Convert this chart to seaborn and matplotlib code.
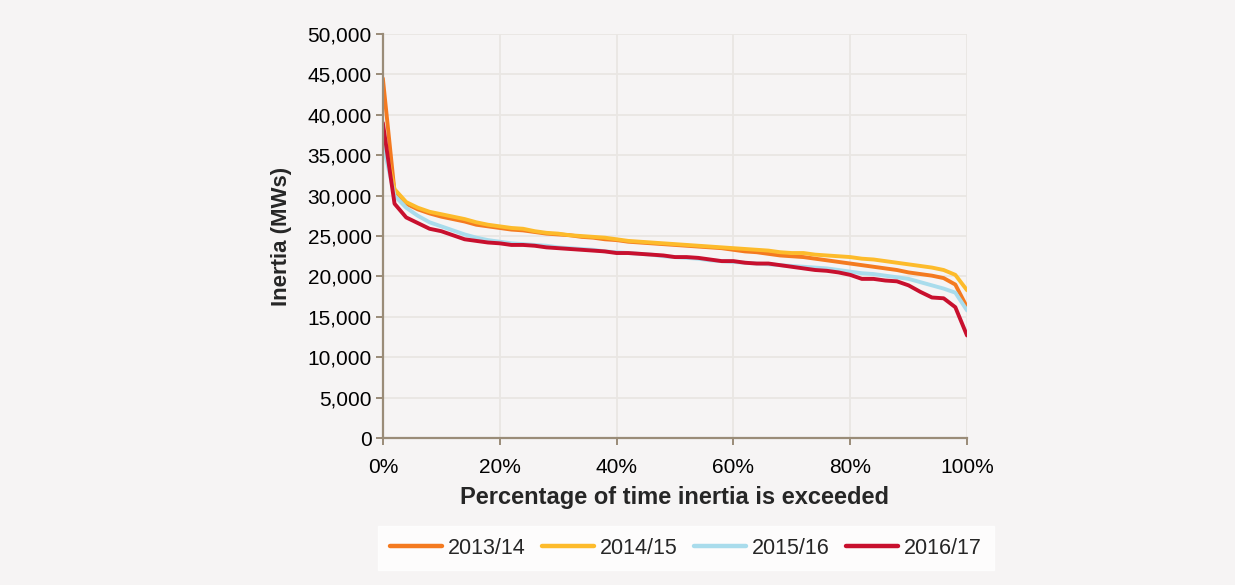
"""
inertia duration curves for four years, drawn with seaborn
"""
import numpy as np
import pandas as pd
import matplotlib.pyplot as plt
import seaborn as sns
from matplotlib.ticker import FuncFormatter, PercentFormatter

# percentage of time the inertia is exceeded (every 2%)
PERCENT = list(range(0, 101, 2))

INERTIA_2013 = [44500, 30500, 29000, 28300, 27800, 27400, 27100, 26800, 26400, 26200,
                26000, 25800, 25700, 25500, 25300, 25200, 25100, 24900, 24800, 24600,
                24500, 24300, 24200, 24100, 24000, 23900, 23800, 23700, 23600, 23500,
                23300, 23100, 23000, 22800, 22600, 22500, 22400, 22200, 22000, 21800,
                21600, 21400, 21200, 21000, 20800, 20500, 20300, 20100, 19800, 19000,
                16200]
INERTIA_2014 = [37500, 30800, 29200, 28500, 28000, 27700, 27400, 27100, 26700, 26400,
                26200, 26000, 25900, 25600, 25400, 25300, 25100, 25000, 24900, 24800,
                24600, 24400, 24300, 24200, 24100, 24000, 23900, 23800, 23700, 23600,
                23500, 23400, 23300, 23200, 23000, 22900, 22900, 22700, 22600, 22500,
                22400, 22200, 22100, 21900, 21700, 21500, 21300, 21100, 20800, 20200,
                18300]
INERTIA_2015 = [36500, 30000, 28500, 27500, 26700, 26200, 25700, 25200, 24800, 24500,
                24300, 24100, 24000, 23900, 23800, 23600, 23500, 23400, 23300, 23100,
                23000, 22900, 22800, 22700, 22500, 22400, 22300, 22200, 22000, 21900,
                21800, 21700, 21600, 21500, 21400, 21300, 21200, 21100, 21000, 20800,
                20600, 20400, 20300, 20100, 19900, 19700, 19300, 18900, 18500, 18000,
                15800]
INERTIA_2016 = [39000, 29000, 27300, 26600, 25900, 25600, 25100, 24600, 24400, 24200,
                24100, 23900, 23900, 23800, 23600, 23500, 23400, 23300, 23200, 23100,
                22900, 22900, 22800, 22700, 22600, 22400, 22400, 22300, 22100, 21900,
                21900, 21700, 21600, 21600, 21400, 21200, 21000, 20800, 20700, 20500,
                20200, 19700, 19700, 19500, 19400, 18900, 18100, 17400, 17300, 16200,
                12700]

YEARS = ['2013/14', '2014/15', '2015/16', '2016/17']
COLOURS = ['#f47a20', '#fdbb2b', '#a9dcec', '#c8102e']

BG = '#f6f4f4'
AXIS_COLOUR = '#9a8c78'

sns.set_theme(style='whitegrid')
plt.rcParams['font.family'] = ['Liberation Sans', 'DejaVu Sans']

frames = []
for year, values in zip(YEARS, [INERTIA_2013, INERTIA_2014, INERTIA_2015, INERTIA_2016]):
    frames.append(pd.DataFrame({'pct': PERCENT, 'inertia': values, 'year': year}))
df = pd.concat(frames, ignore_index=True)

fig = plt.figure(figsize=(12.35, 5.85), dpi=100, facecolor=BG)
ax = fig.add_axes([0.310, 0.251, 0.473, 0.691])
ax.set_facecolor(BG)

sns.lineplot(data=df, x='pct', y='inertia', hue='year', palette=COLOURS,
             linewidth=2.8, ax=ax)

ax.set_xlim(0, 100)
ax.set_ylim(0, 50000)
ax.set_xticks(np.arange(0, 101, 20))
ax.set_yticks(np.arange(0, 50001, 5000))
ax.xaxis.set_major_formatter(PercentFormatter(decimals=0))
ax.yaxis.set_major_formatter(FuncFormatter(lambda v, _: f'{v:,.0f}'))

ax.grid(True, color='#e9e6e3', linewidth=1.3)
for side in ['top', 'right']:
    ax.spines[side].set_visible(False)
for side in ['left', 'bottom']:
    ax.spines[side].set_color(AXIS_COLOUR)
    ax.spines[side].set_linewidth(1.6)
ax.tick_params(axis='y', length=5, width=1.4, color=AXIS_COLOUR, direction='out',
               left=True, labelsize=15, labelcolor='black', pad=3)
ax.tick_params(axis='x', length=5, width=1.4, color=AXIS_COLOUR, direction='out',
               bottom=True, labelsize=15, labelcolor='black', pad=9)

ax.set_xlabel('Percentage of time inertia is exceeded', fontsize=17,
              fontweight='bold', labelpad=7)
ax.set_ylabel('Inertia (MWs)', fontsize=16, fontweight='bold', labelpad=11)

leg = ax.legend(loc='center', bbox_to_anchor=(0.519, -0.272), ncol=4, frameon=True,
                fontsize=15.5, handlelength=2.4, columnspacing=0.75, handletextpad=0.3,
                borderpad=0.55, fancybox=False, borderaxespad=0)
leg.get_frame().set_facecolor('white')
leg.get_frame().set_edgecolor('white')
for line in leg.get_lines():
    line.set_linewidth(3.2)

fig.savefig('out.png', dpi=100, facecolor=BG)
